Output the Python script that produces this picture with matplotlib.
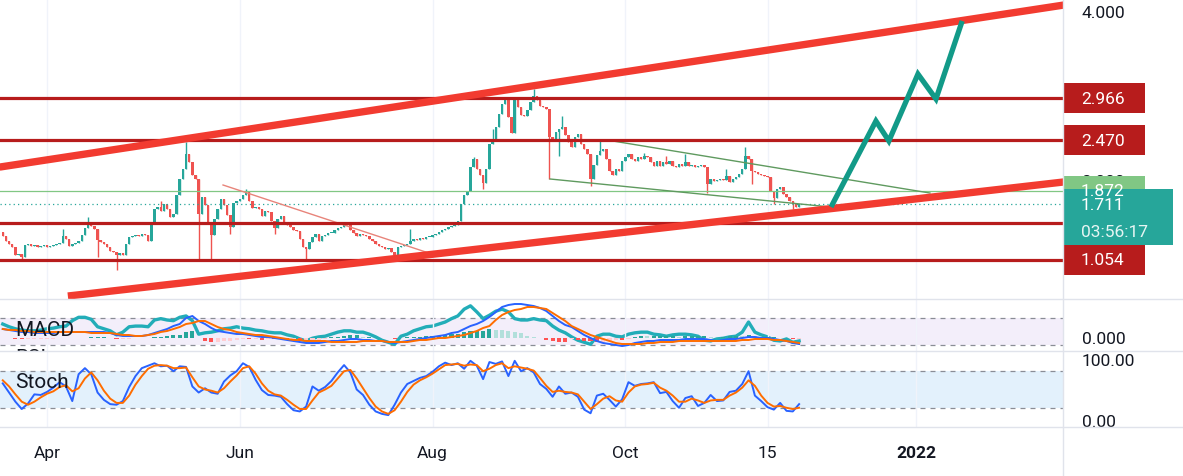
import numpy as np
import matplotlib
matplotlib.use('Agg')
import matplotlib.pyplot as plt
import matplotlib.dates as mdates
from matplotlib.patches import Rectangle
from matplotlib.lines import Line2D
from datetime import datetime

plt.rcParams['font.family'] = ['Roboto', 'DejaVu Sans']

# first candle date, one candle per day
start = datetime(2021, 3, 18)
first_open = 1.38

# daily closes
closes = [
    1.337, 1.278, 1.243, 1.207, 1.112, 1.124, 1.089, 1.231, 1.243, 1.219,
    1.231, 1.207, 1.219, 1.231, 1.207, 1.219, 1.231, 1.243, 1.255, 1.337,
    1.302, 1.219, 1.243, 1.255, 1.278, 1.349, 1.432, 1.491, 1.456, 1.420,
    1.290, 1.266, 1.243, 1.207, 1.160, 1.148, 1.112, 1.136, 1.112, 1.243,
    1.325, 1.337, 1.349, 1.337, 1.361, 1.349, 1.278, 1.479, 1.657, 1.681,
    1.633, 1.716, 1.657, 1.562, 1.598, 1.823, 2.012, 2.130, 2.308, 2.213,
    2.059, 2.012, 1.598, 1.799, 1.704, 1.479, 1.349, 1.538, 1.657, 1.775,
    1.704, 1.586, 1.444, 1.728, 1.752, 1.775, 1.823, 1.870, 1.752, 1.669,
    1.681, 1.657, 1.574, 1.633, 1.621, 1.515, 1.432, 1.538, 1.574, 1.503,
    1.467, 1.444, 1.408, 1.396, 1.302, 1.207, 1.183, 1.266, 1.325, 1.361,
    1.278, 1.337, 1.349, 1.373, 1.373, 1.408, 1.432, 1.444, 1.479, 1.467,
    1.408, 1.373, 1.337, 1.361, 1.349, 1.337, 1.302, 1.278, 1.243, 1.219,
    1.207, 1.183, 1.195, 1.148, 1.112, 1.207, 1.219, 1.231, 1.243, 1.278,
    1.302, 1.290, 1.314, 1.302, 1.325, 1.325, 1.349, 1.361, 1.385, 1.408,
    1.420, 1.444, 1.456, 1.467, 1.515, 1.716, 1.823, 1.870, 2.154, 2.249,
    2.130, 2.059, 1.965, 2.130, 2.426, 2.462, 2.627, 2.781, 2.899, 2.959,
    2.746, 2.556, 2.959, 2.864, 2.769, 2.757, 2.828, 2.923, 2.994, 2.947,
    2.876, 2.864, 2.840, 2.509, 2.485, 2.568, 2.604, 2.627, 2.533, 2.450,
    2.391, 2.509, 2.544, 2.426, 2.367, 2.308, 2.012, 2.178, 2.296, 2.343,
    2.367, 2.249, 2.107, 2.059, 2.130, 2.107, 2.225, 2.272, 2.308, 2.249,
    2.225, 2.272, 2.249, 2.284, 2.272, 2.213, 2.166, 2.225, 2.166, 2.213,
    2.189, 2.225, 2.166, 2.154, 2.189, 2.166, 2.213, 2.166, 2.178, 2.154,
    2.166, 2.178, 2.154, 1.953, 2.012, 1.988, 2.000, 2.012, 2.000, 2.047,
    1.976, 2.012, 2.036, 2.071, 2.130, 2.284, 2.249, 2.107, 2.095, 2.071,
    2.059, 2.047, 2.036, 1.870, 1.787, 1.894, 1.917, 1.834, 1.799, 1.752,
    1.716, 1.681, 1.711,
]

# long wicks (candle index -> price)
wick_hi = {19: 1.42, 27: 1.562, 50: 1.752, 58: 2.45, 77: 1.894, 129: 1.42,
           149: 2.272, 155: 2.604, 168: 3.077, 177: 2.757, 189: 2.462,
           203: 2.32, 210: 2.284, 216: 2.308, 229: 2.13, 235: 2.391}
wick_lo = {6: 1.041, 30: 1.089, 36: 0.93, 62: 1.041, 66: 1.065, 72: 1.361,
           86: 1.361, 96: 1.041, 124: 1.041, 152: 1.894, 173: 2.012,
           176: 2.284, 186: 1.929, 223: 1.846, 237: 1.953, 244: 1.716,
           250: 1.657}

# drawings (day offset from start, price)
levels = [2.966, 2.470, 1.490, 1.054]
tag_levels = [2.966, 2.470, 1.054]
green_level = 1.872
last_price = 1.711
countdown = '03:56:17'
upper_days, upper_prices = [-1, 336], [2.153, 4.072]
lower_days, lower_prices = [20.6, 336], [0.627, 1.978]
red_trend_days, red_trend_prices = [69.7, 135.8], [1.941, 1.124]
green_up_days, green_up_prices = [191.2, 293.4], [2.473, 1.846]
green_lo_days, green_lo_prices = [173.2, 261.8], [2.012, 1.681]
arrow_days = [262.1, 276.3, 280.4, 289.6, 295.3, 303.6]
arrow_prices = [1.681, 2.698, 2.462, 3.254, 2.959, 3.882]

# indicators, one value every 2 days
rsi = [
    61, 57, 54, 52, 51, 51, 52, 54, 55, 57,
    58, 66, 71, 71, 68, 57, 54, 51, 45, 49,
    57, 58, 58, 57, 67, 69, 67, 66, 71, 73,
    66, 46, 48, 49, 51, 54, 55, 57, 55, 54,
    52, 51, 49, 48, 48, 45, 43, 39, 36, 40,
    42, 43, 46, 49, 51, 51, 49, 49, 46, 42,
    37, 34, 31, 43, 46, 51, 54, 57, 58, 61,
    64, 69, 73, 83, 88, 79, 69, 74, 80, 83,
    79, 69, 67, 67, 69, 67, 66, 58, 52, 48,
    42, 37, 34, 31, 43, 46, 46, 43, 42, 46,
    48, 49, 49, 46, 45, 43, 45, 46, 46, 45,
    43, 37, 36, 39, 40, 42, 43, 49, 64, 49,
    45, 42, 37, 36, 39, 34, 36,
]
macd = [
    .085, .075, .065, .055, .055, .045, .045, .045, .045, .055,
    .055, .055, .055, .055, .055, .055, .055, .045, .025, .015,
    .015, .015, .015, .025, .045, .065, .085, .115, .135, .195,
    .215, .165, .135, .095, .065, .055, .045, .035, .035, .025,
    .015, .005, .005, -.005, -.015, -.025, -.035, -.045, -.055, -.055,
    -.055, -.045, -.035, -.035, -.025, -.015, -.015, -.025, -.025, -.035,
    -.035, -.045, -.055, -.045, -.035, -.025, -.015, -.005, .005, .015,
    .025, .045, .055, .085, .115, .135, .165, .205, .255, .305,
    .325, .335, .335, .325, .315, .295, .265, .215, .165, .125,
    .105, .065, .025, -.005, -.035, -.055, -.065, -.075, -.085, -.075,
    -.055, -.045, -.035, -.035, -.025, -.025, -.025, -.025, -.015, -.015,
    -.015, -.015, -.025, -.035, -.025, -.015, -.015, -.005, .005, .005,
    -.005, -.005, -.015, -.025, -.035, -.055, -.065,
]
signal = [
    .085, .075, .075, .065, .065, .055, .055, .055, .055, .055,
    .055, .055, .055, .055, .045, .045, .045, .045, .035, .025,
    .025, .015, .015, .025, .035, .055, .065, .085, .105, .135,
    .145, .165, .165, .135, .105, .085, .075, .055, .045, .035,
    .025, .025, .015, .005, -.005, -.015, -.025, -.025, -.035, -.035,
    -.035, -.035, -.045, -.045, -.045, -.045, -.045, -.035, -.035, -.035,
    -.035, -.045, -.045, -.045, -.045, -.035, -.025, -.025, -.015, -.005,
    -.005, .005, .015, .025, .045, .065, .095, .115, .175, .225,
    .255, .275, .285, .305, .305, .295, .285, .245, .205, .165,
    .115, .085, .055, .025, .005, -.015, -.035, -.055, -.065, -.065,
    -.065, -.065, -.055, -.055, -.045, -.045, -.045, -.035, -.035, -.035,
    -.035, -.035, -.035, -.035, -.035, -.035, -.035, -.025, -.025, -.015,
    -.015, -.015, -.025, -.025, -.035, -.045, -.055,
]
stoch_k = [
    60, 45, 30, 18, 27, 42, 41, 46, 53, 62,
    55, 31, 75, 85, 75, 45, 33, 26, 25, 31,
    54, 72, 85, 89, 93, 88, 89, 80, 88, 87,
    55, 45, 52, 45, 43, 63, 73, 80, 93, 87,
    66, 49, 41, 40, 38, 26, 16, 14, 22, 55,
    48, 54, 64, 78, 90, 78, 50, 41, 25, 14,
    10, 8, 25, 45, 59, 64, 69, 72, 79, 88,
    94, 90, 93, 84, 97, 89, 67, 95, 92, 96,
    72, 97, 80, 85, 78, 59, 51, 38, 55, 43,
    45, 38, 17, 11, 40, 43, 33, 22, 34, 62,
    56, 59, 60, 62, 44, 46, 31, 20, 36, 39,
    23, 28, 41, 31, 32, 46, 48, 59, 80, 40,
    31, 21, 17, 28, 15, 14, 26,
]
stoch_d = [
    65, 55, 42, 30, 25, 30, 37, 43, 47, 54,
    57, 47, 52, 68, 78, 65, 48, 35, 28, 28,
    40, 58, 72, 84, 89, 90, 89, 85, 85, 86,
    70, 55, 50, 48, 45, 52, 63, 73, 85, 88,
    76, 60, 48, 42, 40, 33, 25, 18, 18, 32,
    45, 50, 56, 68, 80, 82, 68, 52, 36, 22,
    14, 10, 16, 30, 46, 58, 65, 70, 76, 83,
    90, 91, 92, 89, 91, 90, 80, 84, 90, 93,
    85, 88, 86, 84, 81, 69, 56, 46, 48, 46,
    45, 42, 30, 18, 26, 35, 39, 32, 30, 45,
    55, 58, 59, 61, 53, 48, 40, 30, 30, 35,
    32, 28, 32, 33, 33, 40, 45, 53, 65, 56,
    40, 28, 22, 23, 20, 18, 20,
]

tick_dates = [datetime(2021, 4, 1), datetime(2021, 6, 1), datetime(2021, 8, 1),
              datetime(2021, 10, 1), datetime(2021, 11, 15), datetime(2022, 1, 1)]
tick_labels = ['Apr', 'Jun', 'Aug', 'Oct', '15', '2022']

UP = '#26a69a'
DOWN = '#ef5350'
LEVEL = '#b71c1c'
CHANNEL = '#f23b30'
TEXT = '#131722'
SEP = '#e0e3eb'

W, H = 1183, 477
AXIS_X = 1063


def pane(fig, top, bottom, **kw):
    return fig.add_axes([0, (H - bottom) / H, AXIS_X / W, (bottom - top) / H], **kw)


def tag(ax, value, label, face, top_px=15, bottom_px=15, width_px=82, sub=None):
    lo, hi = ax.get_ylim()
    ppu = ax.get_window_extent().height / (hi - lo)
    tr = ax.get_yaxis_transform()
    rect = Rectangle((1.0, value - bottom_px / ppu), width_px / AXIS_X,
                     (top_px + bottom_px) / ppu, transform=tr, facecolor=face,
                     edgecolor='none', clip_on=False, zorder=20)
    ax.add_patch(rect)
    ax.text(1.0 + 18 / AXIS_X, value, label, transform=tr, color='white',
            fontsize=12.5, va='center', ha='left', clip_on=False, zorder=21)
    if sub:
        ax.text(1.0 + 18 / AXIS_X, value - 27 / ppu, sub, transform=tr,
                color='#e6f5f3', fontsize=12.5, va='center', ha='left',
                clip_on=False, zorder=21)


def style(ax):
    for s in ax.spines.values():
        s.set_visible(False)
    ax.yaxis.tick_right()
    ax.tick_params(axis='y', length=0, pad=13.5, labelsize=12.5, labelcolor=TEXT)
    ax.tick_params(axis='x', length=0)
    ax.grid(axis='x', color='#f0f3fa', lw=1)
    ax.set_axisbelow(True)


def main():
    fig = plt.figure(figsize=(W / 100, H / 100), dpi=100)
    d0 = mdates.date2num(start)

    ax = pane(fig, 0, 300)
    ax_m = pane(fig, 300, 352, sharex=ax)
    ax_s = pane(fig, 352, 428, sharex=ax)
    ax_r = ax_m.twinx()
    ax_r.set_position(ax_m.get_position())

    ax.set_xlim(d0 - 0.873, d0 + 335.5)
    ax.set_ylim(0.592, 4.142)
    ax_m.set_ylim(-0.135, 0.385)
    ax_r.set_ylim(21.1, 98.1)
    ax_s.set_ylim(-11.5, 113.1)

    for a in (ax, ax_m, ax_s):
        style(a)
    ax_s.set_xticks([mdates.date2num(t) for t in tick_dates], labels=tick_labels)
    ax_s.tick_params(axis='x', pad=13, labelsize=12.5, labelcolor=TEXT)
    ax_s.get_xticklabels()[-1].set_fontweight('bold')
    ax.tick_params(axis='x', labelbottom=False)
    ax_m.tick_params(axis='x', labelbottom=False)

    # candles
    c = np.array(closes)
    o = np.array([first_open] + closes[:-1])
    x = d0 + np.arange(len(c))
    hi = np.maximum(o, c)
    lo = np.minimum(o, c)
    for k, v in wick_hi.items():
        hi[k] = max(hi[k], v)
    for k, v in wick_lo.items():
        lo[k] = min(lo[k], v)
    cols = [UP if cc >= oo else DOWN for oo, cc in zip(o, c)]
    ax.vlines(x, lo, hi, colors=cols, linewidth=1.0, zorder=3)
    ax.bar(x, np.maximum(np.abs(c - o), 0.008), bottom=np.minimum(o, c),
           width=0.78, color=cols, linewidth=0, zorder=3)

    # price ticks
    ax.set_yticks([2.0, 4.0], labels=['2.000', '4.000'])

    # horizontal levels and current price lines
    for v in levels:
        ax.axhline(v, color=LEVEL, lw=2.3, zorder=5)
    ax.axhline(green_level, color='#81c784', lw=0.9, zorder=4)
    ax.axhline(last_price, color=UP, lw=0.9, ls=(0, (1, 2.5)), zorder=4)

    # channel and trend drawings
    ax.plot(d0 + np.array(upper_days), upper_prices,
            color=CHANNEL, lw=5.3, solid_capstyle='butt', zorder=6)
    ax.plot(d0 + np.array(lower_days), lower_prices,
            color=CHANNEL, lw=5.3, solid_capstyle='butt', zorder=6)
    ax.plot(d0 + np.array(red_trend_days), red_trend_prices, color='#e8847a',
            lw=1.0, zorder=4)
    ax.plot(d0 + np.array(green_up_days), green_up_prices, color='#5f9a5f',
            lw=1.0, zorder=4)
    ax.plot(d0 + np.array(green_lo_days), green_lo_prices, color='#5f9a5f',
            lw=1.0, zorder=4)
    ax.plot(d0 + np.array(arrow_days), arrow_prices, color='#129a88',
            lw=3.8, solid_joinstyle='miter', solid_capstyle='butt', zorder=7)

    # price tags on the right scale
    for v in tag_levels:
        tag(ax, v, '%.3f' % v, LEVEL)
    tag(ax, green_level, '%.3f' % green_level, '#81c784')
    tag(ax, last_price, '%.3f' % last_price, UP, top_px=15, bottom_px=41,
        width_px=110, sub=countdown)

    # rsi pane (behind macd)
    ix = d0 + np.arange(len(rsi)) * 2
    ax_r.axhspan(30, 70, color='#f3eefa', lw=0, zorder=0)
    for v in (30, 70):
        ax_r.axhline(v, color='#8a8d96', lw=0.9, ls=(0, (4, 4)), zorder=1)
    ax_r.plot(ix, rsi, color='#22adb8', lw=2.4, zorder=2)
    ax_r.set_yticks([])
    for s in ax_r.spines.values():
        s.set_visible(False)
    ax_m.set_zorder(ax_r.get_zorder() + 1)
    ax_m.patch.set_visible(False)

    # macd histogram and lines
    m = np.array(macd)
    sg = np.array(signal)
    hist = m - sg
    hcols = []
    for k, h in enumerate(hist):
        prev = hist[k - 1] if k else h
        if h >= 0:
            hcols.append('#26a69a' if h >= prev else '#b2dfdb')
        else:
            hcols.append('#ff5252' if h < prev else '#ffcdd2')
    ax_m.bar(ix, hist, width=1.3, color=hcols, linewidth=0, zorder=2)
    ax_m.plot(ix, m, color='#2962ff', lw=1.4, zorder=3)
    ax_m.plot(ix, sg, color='#ff6d00', lw=1.4, zorder=3)
    ax_m.set_yticks([0], labels=['0.000'])
    ax_m.text(15 / AXIS_X, 0.42, 'MACD', transform=ax_m.transAxes, fontsize=15,
              color=TEXT, va='center', zorder=5)
    ax_m.text(15 / AXIS_X, 0.06, 'RSI', transform=ax_m.transAxes, fontsize=15,
              color=TEXT, va='top', clip_on=True, zorder=5)

    # stochastic pane
    ax_s.axhspan(20, 80, color='#e3f1fc', lw=0, zorder=0)
    for v in (20, 80):
        ax_s.axhline(v, color='#8a8d96', lw=0.9, ls=(0, (4, 4)), zorder=1)
    ax_s.plot(ix, stoch_k, color='#2962ff', lw=1.4, zorder=3)
    ax_s.plot(ix, stoch_d, color='#ff6d00', lw=1.4, zorder=3)
    ax_s.set_yticks([0, 100], labels=['0.00', '100.00'])
    ax_s.text(15 / AXIS_X, 0.6, 'Stoch', transform=ax_s.transAxes, fontsize=15,
              color=TEXT, va='center', zorder=5)

    # pane separators
    for ypx in (300, 352, 428):
        fig.add_artist(Line2D([0, 1], [(H - ypx) / H] * 2, color=SEP, lw=1))
    fig.add_artist(Line2D([AXIS_X / W] * 2, [0, 1], color=SEP, lw=1))

    fig.savefig('out.png', dpi=100, facecolor='white')


if __name__ == '__main__':
    main()
